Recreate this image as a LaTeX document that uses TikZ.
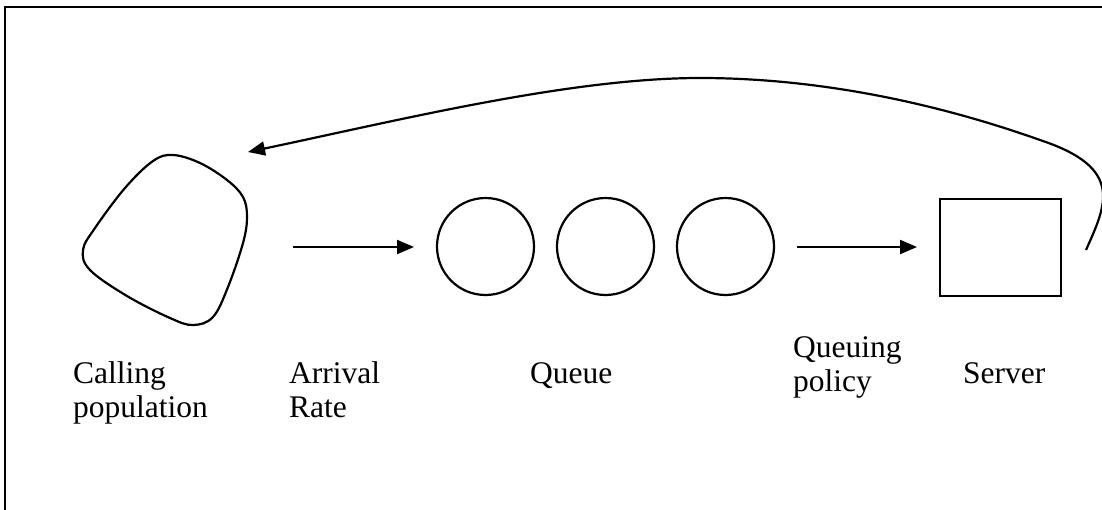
\documentclass[tikz,border=0pt]{standalone}
\usepackage{fontspec}
\setmainfont{Liberation Serif}
\usetikzlibrary{arrows.meta}
\begin{document}
\begin{tikzpicture}[x=1pt,y=-1pt,
  shape line/.style={line width=2.2pt},
  flow/.style={line width=2.2pt,-{Triangle[length=17pt,width=14pt]}},
  lbl/.style={inner sep=0pt,anchor=base west,font=\fontsize{31.5}{34}\selectfont}]
\useasboundingbox (0,0) rectangle (1102,509);
\clip (0,0) rectangle (1102,509);
\draw[line width=2pt] (5,6.5) rectangle (1120,530);
% calling population blob
\draw[shape line] plot[smooth cycle, tension=0.6] coordinates {
  (173,155) (200,163) (227,180) (243,197) (247,217) (243,243)
  (228,287) (213,317) (193,325) (170,318) (127,296) (90,270)
  (83,250) (95,228) (125,188) (153,161)};
\coordinate (popin) at (248,152);
% arrival arrow
\coordinate (a1s) at (293,247);
\coordinate (a1e) at (414,247);
\draw[flow] (a1s) -- (a1e);
% queue circles
\node[shape line,draw,circle,minimum size=97pt,inner sep=0pt] (q1) at (485.5,246.5) {};
\node[shape line,draw,circle,minimum size=97pt,inner sep=0pt] (q2) at (605.5,246.5) {};
\node[shape line,draw,circle,minimum size=97pt,inner sep=0pt] (q3) at (725.5,246.5) {};
% policy arrow
\coordinate (a2s) at (797,247);
\coordinate (a2e) at (917,247);
\draw[flow] (a2s) -- (a2e);
% server
\node[shape line,draw,minimum width=121pt,minimum height=97pt,inner sep=0pt] (srv) at (1000.5,247.5) {};
% return arrow
\coordinate (rs) at (1086,250);
\draw[flow] (rs) .. controls (1106,205) and (1125,168) .. (1040,140)
  .. controls (950,108) and (830,78) .. (700,78)
  .. controls (570,78) and (400,120) .. (popin);
% labels
\node[lbl] (l1a) at (73,383) {Calling};
\node[lbl] (l1b) at (73,417) {population};
\node[lbl] (l2a) at (289,383) {Arrival};
\node[lbl] (l2b) at (289,417) {Rate};
\node[lbl] (l3) at (530,383) {Queue};
\node[lbl] (l4a) at (793,357) {Queuing};
\node[lbl] (l4b) at (793,391) {policy};
\node[lbl] (l5) at (963,383) {Server};
\end{tikzpicture}
\end{document}
